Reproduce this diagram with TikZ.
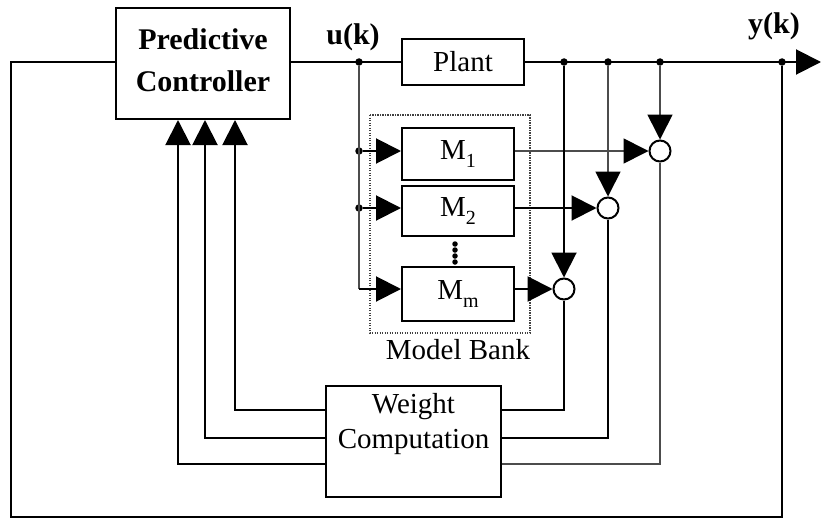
\documentclass[tikz,border=0pt]{standalone}
\usepackage{fontspec}
\setmainfont{Liberation Serif}
\usetikzlibrary{arrows.meta,calc}

\tikzset{
  blk/.style={draw=black, line width=2pt, rectangle, inner sep=0pt, fill=white},
  sumpt/.style={draw=black, line width=2pt, circle, minimum size=21pt, inner sep=0pt, fill=white},
  wire/.style={line width=2pt, draw=black},
  softwire/.style={line width=1.7pt, draw=black!70},
  tip/.style={-{Triangle[length=25pt,width=25pt,color=black]}},
  jdot/.style={circle, fill=black, inner sep=0pt, minimum size=7.5pt},
  txt/.style={font=\fontsize{29}{35}\selectfont},
  btxt/.style={font=\fontsize{30}{42}\selectfont\bfseries},
}

\newcommand{\msub}[1]{M\raisebox{-0.25em}{\fontsize{20}{20}\selectfont #1}}

\begin{document}
\begin{tikzpicture}[x=1pt,y=-1pt]
\useasboundingbox (0,0) rectangle (821,519);

% blocks
\node[blk, minimum width=174pt, minimum height=111pt] (pc) at (203,63.5) {};
\node[btxt, align=center, inner sep=0pt] (pclabel) at (203,60) {Predictive\\Controller};
\node[blk, minimum width=122pt, minimum height=46pt, txt] (plant) at (463,62) {Plant};
\node[blk, minimum width=112pt, minimum height=52pt, txt] (m1) at (458,154) {\msub{1}};
\node[blk, minimum width=112pt, minimum height=50pt, txt] (m2) at (458,211) {\msub{2}};
\node[blk, minimum width=112pt, minimum height=54pt, txt] (mm) at (458,294) {\msub{m}};
\node[blk, minimum width=175pt, minimum height=111pt] (wc) at (413.5,441.5) {};
\node[txt, align=center, inner sep=0pt] (wclabel) at (413.5,424) {Weight\\Computation};

% model bank frame
\draw[black!75, line width=1.2pt, dash pattern=on 1.2pt off 1.3pt] (370,115) rectangle (530,333);
\node[txt, inner sep=0pt] (banklabel) at (458,350) {Model Bank};

% ellipsis between models
\foreach \yy [count=\i] in {244,250,256,262}
  \node[circle, fill=black, inner sep=0pt, minimum size=5.5pt] (ell\i) at (455,\yy) {};

% comparison points
\node[sumpt] (c1) at (660,151) {};
\node[sumpt] (c2) at (608,208) {};
\node[sumpt] (c3) at (564,289) {};

% signal labels
\node[btxt, inner sep=0pt] (ulabel) at (353,37) {u(k)};
\node[btxt, inner sep=0pt] (ylabel) at (774,26) {y(k)};

% junction points
\coordinate (uj) at (359,62);
\node[jdot] (uj0) at (uj) {};
\node[jdot] (uj1) at (359,151) {};
\node[jdot] (uj2) at (359,208) {};
\coordinate (uj3) at (359,289);
\node[jdot] (yj3) at (564,62) {};
\node[jdot] (yj2) at (608,62) {};
\node[jdot] (yj1) at (660,62) {};
\node[jdot] (yj0) at (782,62) {};
\coordinate (yend) at (821,62);

% forward path
\draw[wire] (pc.east |- uj) -- (plant.west);
\draw[wire, tip] (plant.east) -- (yend);

% model inputs
\draw[softwire] (uj0) -- (uj3);
\draw[wire, tip] (uj1) -- (m1.west |- uj1);
\draw[wire, tip] (uj2) -- (m2.west |- uj2);
\draw[wire, tip] (uj3) -- (mm.west |- uj3);

% model outputs into comparison points
\draw[softwire, tip] (m1.east |- c1) -- (c1.west);
\draw[wire, tip] (m2.east |- c2) -- (c2.west);
\draw[wire, tip] (mm.east |- c3) -- (c3.west);
\draw[softwire, tip] (yj1) -- (c1.north);
\draw[softwire, tip] (yj2) -- (c2.north);
\draw[wire, tip] (yj3) -- (c3.north);

% errors into weight computation
\draw[wire] (c3.south) |- (wc.east |- 0,410);
\draw[wire] (c2.south) |- (wc.east |- 0,438);
\draw[softwire] (c1.south) |- (wc.east |- 0,464);

% weights into controller
\draw[wire, tip] (wc.west |- 0,410) -| (pc.south -| 235,0);
\draw[wire, tip] (wc.west |- 0,438) -| (pc.south -| 205,0);
\draw[wire, tip] (wc.west |- 0,464) -| (pc.south -| 178,0);

% output feedback loop
\draw[wire] (yj0) -- (782,517) -- (11,517) -- (11,62) -- (pc.west |- uj);
\end{tikzpicture}
\end{document}
